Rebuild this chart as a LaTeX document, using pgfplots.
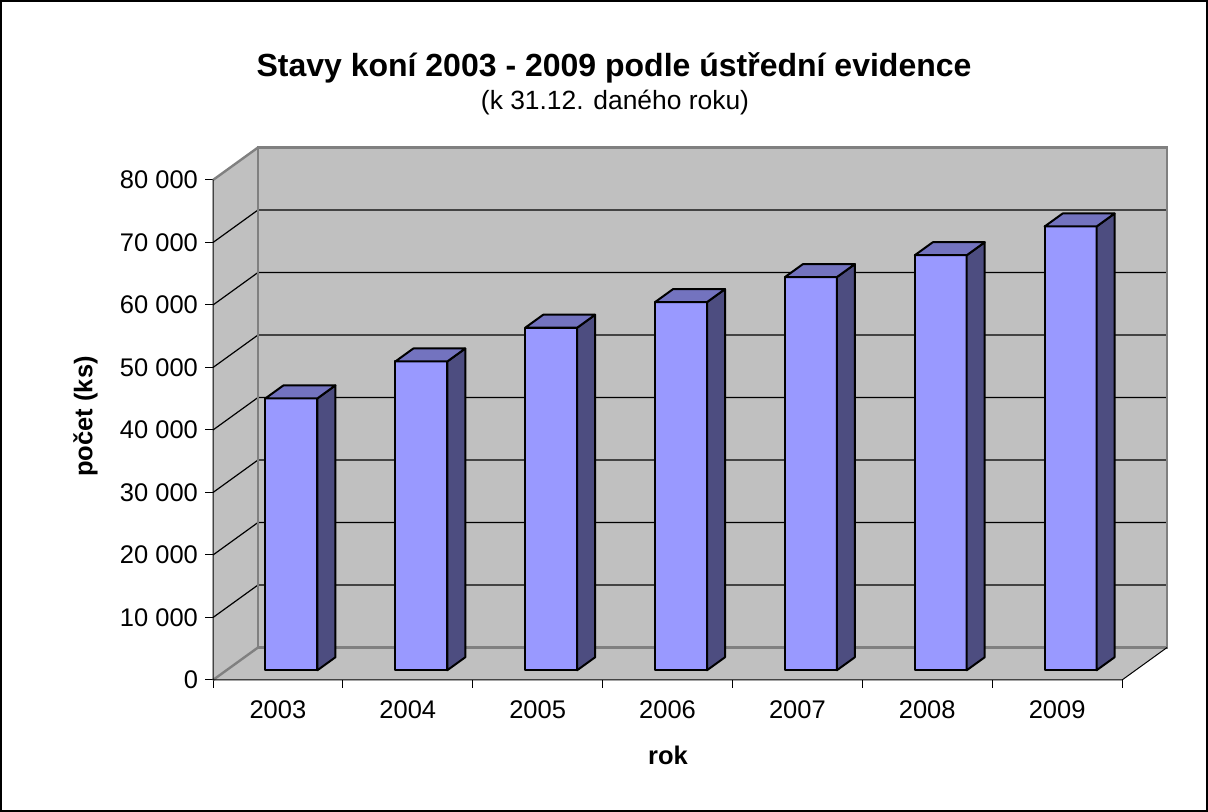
\documentclass[border=0pt]{standalone}
\usepackage{pgfplots}
\pgfplotsset{compat=1.18}
\usepackage{pgfplotstable}
\usepackage{fontspec}
\setmainfont{Liberation Sans}
\definecolor{wall}{RGB}{192,192,192}
\definecolor{wallborder}{RGB}{128,128,128}
\definecolor{barfront}{RGB}{153,153,255}
\definecolor{barside}{RGB}{77,77,128}
\definecolor{bartop}{RGB}{115,115,191}

% values in thousands of horses
\pgfplotstableread{
idx year value
0 2003 43.5
1 2004 49.4
2 2005 54.8
3 2006 58.9
4 2007 62.9
5 2008 66.4
6 2009 71.0
}\horsedata

\newcommand\tickfont{\fontsize{12.75}{15}\selectfont}

\begin{document}
\begin{tikzpicture}
\path[use as bounding box] (0,0) rectangle (604pt,406pt);
\draw[line width=1pt] (0.5pt,0.5pt) rectangle (603.5pt,405.5pt);
\begin{axis}[
  at={(106.5pt,66pt)}, anchor=south west,
  x=64.93pt, y=3.125pt,
  xmin=0, xmax=7.3465, ymin=0, ymax=85.2,
  axis line style={draw=none},
  clip=false,
  tick pos=left, tick align=outside, major tick length=4pt,
  ytick={0,10,...,80},
  yticklabels={0,10 000,20 000,30 000,40 000,50 000,60 000,70 000,80 000},
  xtick={0,1,...,7}, xticklabels={},
  extra x ticks={0.5,1.5,...,6.5},
  extra x tick labels={2003,2004,2005,2006,2007,2008,2009},
  extra x tick style={tick style={draw=none}},
  ticklabel style={font=\tickfont},
  xticklabel style={yshift=-2.75pt},
  tick style={black, line width=0.5pt},
]
% walls and floor
\addplot[fill=wall, draw=none] coordinates {(0.3465,5.2) (7.3465,5.2) (7.3465,85.2) (0.3465,85.2)} --cycle;
\addplot[fill=wall, draw=none] coordinates {(0,0) (0.3465,5.2) (0.3465,85.2) (0,80)} --cycle;
\addplot[fill=wall, draw=none] coordinates {(0,0) (7,0) (7.3465,5.2) (0.3465,5.2)} --cycle;
% gridlines
\addplot[black, line width=0.6pt] coordinates {(0,10) (0.3465,15.2) (7.3465,15.2)};
\addplot[black, line width=0.6pt] coordinates {(0,20) (0.3465,25.2) (7.3465,25.2)};
\addplot[black, line width=0.6pt] coordinates {(0,30) (0.3465,35.2) (7.3465,35.2)};
\addplot[black, line width=0.6pt] coordinates {(0,40) (0.3465,45.2) (7.3465,45.2)};
\addplot[black, line width=0.6pt] coordinates {(0,50) (0.3465,55.2) (7.3465,55.2)};
\addplot[black, line width=0.6pt] coordinates {(0,60) (0.3465,65.2) (7.3465,65.2)};
\addplot[black, line width=0.6pt] coordinates {(0,70) (0.3465,75.2) (7.3465,75.2)};
% wall borders
\addplot[wallborder, line width=1.2pt] coordinates {(0.3465,5.2) (7.3465,5.2) (7.3465,85.2) (0.3465,85.2)} --cycle;
\addplot[wallborder, line width=1.2pt] coordinates {(0,80) (0.3465,85.2)};
\addplot[wallborder, line width=1.2pt] coordinates {(0,0) (0.3465,5.2)};
% front axis lines
\addplot[black, line width=0.5pt] coordinates {(0,80) (0,0) (7,0) (7.3465,5.2)};
% bars
\pgfplotsinvokeforeach{0,...,6}{
  \pgfplotstablegetelem{#1}{value}\of\horsedata
  \pgfmathsetmacro\vt{\pgfplotsretval+1.56}
  \pgfmathsetmacro\vtt{\vt+2.08}
  \pgfmathsetmacro\xl{#1+0.404}
  \pgfmathsetmacro\xr{#1+0.804}
  \pgfmathsetmacro\xlb{\xl+0.1386}
  \pgfmathsetmacro\xrb{\xr+0.1386}
  \edef\barcmds{%
    \noexpand\addplot[fill=barfront, draw=black, line width=1pt, line join=round] coordinates {(\xl,1.56) (\xr,1.56) (\xr,\vt) (\xl,\vt)} --cycle;
    \noexpand\addplot[fill=barside, draw=black, line width=1pt, line join=round] coordinates {(\xr,1.56) (\xrb,3.64) (\xrb,\vtt) (\xr,\vt)} --cycle;
    \noexpand\addplot[fill=bartop, draw=black, line width=1pt, line join=round] coordinates {(\xl,\vt) (\xr,\vt) (\xrb,\vtt) (\xlb,\vtt)} --cycle;
  }%
  \barcmds
}
\end{axis}
\node[anchor=base, font=\bfseries\fontsize{16}{19}\selectfont] at (307pt,367.5pt) {Stavy koní 2003 - 2009 podle ústřední evidence};
\node[anchor=base, font=\fontsize{13.2}{15.5}\selectfont] at (307.5pt,351pt) {(k 31.12. daného roku)};
\node[anchor=base, font=\bfseries\tickfont] at (334pt,23.5pt) {rok};
\node[anchor=base, rotate=90, font=\bfseries\tickfont] at (46.2pt,197.75pt) {počet (ks)};
\end{tikzpicture}
\end{document}
